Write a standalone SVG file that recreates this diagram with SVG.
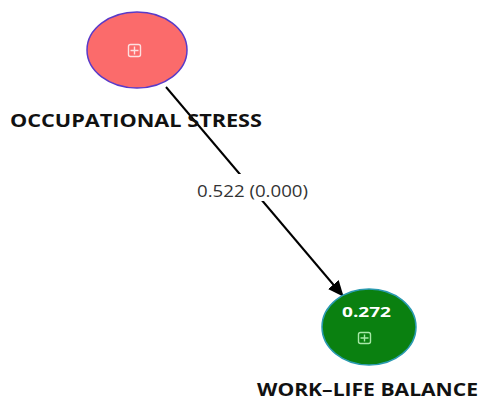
<svg xmlns="http://www.w3.org/2000/svg" width="483" height="403" viewBox="0 0 483 403">
<defs>
<marker id="ah" markerWidth="16" markerHeight="14" refX="15" refY="7" orient="auto" markerUnits="userSpaceOnUse" viewBox="0 0 16 14">
<path d="M0,0 L16,7 L0,14 z" fill="#000"/>
</marker>
<style>
.lbl{font-family:"Open Sans","Liberation Sans",sans-serif;font-weight:bold;font-size:18px;fill:#111}
.edge{font-family:"Open Sans","Liberation Sans",sans-serif;font-size:17px;fill:#333}
.icon{fill:none;stroke-width:1.4}
</style>
</defs>
<rect width="483" height="403" fill="#fff"/>
<g id="connectors">
<line x1="166" y1="87" x2="343" y2="296" stroke="#000" stroke-width="2" marker-end="url(#ah)"/>
<rect x="194" y="174" width="118" height="27" fill="#fff"/>
<text class="edge" x="197" y="197" textLength="111" lengthAdjust="spacingAndGlyphs">0.522 (0.000)</text>
</g>
<g id="occupational-stress">
<ellipse cx="137" cy="50" rx="50" ry="38" fill="#fb6b6b" stroke="#5a3ac8" stroke-width="1.5"/>
<rect x="128.5" y="44.5" width="12" height="12" rx="2" class="icon" stroke="#fde0e0"/>
<path d="M134.5,46.5 v8 M130.5,50.5 h8" class="icon" stroke="#fde0e0"/>
<text class="lbl" x="10" y="127" textLength="252" lengthAdjust="spacingAndGlyphs">OCCUPATIONAL STRESS</text>
</g>
<g id="work-life-balance">
<ellipse cx="369" cy="327" rx="47" ry="38" fill="#0a8010" stroke="#2a9ab0" stroke-width="1.5"/>
<text x="342" y="317" textLength="49" lengthAdjust="spacingAndGlyphs" font-family="'Open Sans','Liberation Sans',sans-serif" font-weight="bold" font-size="15" fill="#fff">0.272</text>
<rect x="358.5" y="332.5" width="12" height="11" rx="2" class="icon" stroke="#a8e8a8"/>
<path d="M364.5,334.5 v7 M360.5,338 h8" class="icon" stroke="#a8e8a8"/>
<text class="lbl" x="257" y="396" textLength="221" lengthAdjust="spacingAndGlyphs">WORK–LIFE BALANCE</text>
</g>
</svg>
